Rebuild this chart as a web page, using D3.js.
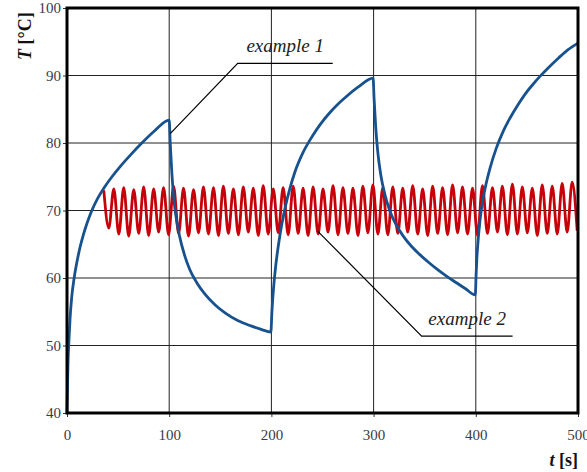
<!DOCTYPE html>
<html>
<head>
<meta charset="utf-8">
<script src="https://cdn.jsdelivr.net/npm/d3@7"></script>
<style>
	body { margin: 0; background: white; }
	text { font-family: "Liberation Serif", "DejaVu Serif", serif; }
</style>
</head>
<body>
<script>

// example 1 : heating / cooling cycles [t (s), T (°C)]
var example1 = [
	[0,40],[0.5,44],[1,47.5],[2,51],[3,54],[4.5,57],[7,60],[10,62.6],[13,64.7],[16,66.4],
	[20,68.3],[24,69.9],[30,71.8],[36,73.3],[44,75.0],[52,76.5],[62,78.2],[72,79.8],[85,81.7],[100,83.4],
	[101,80],[102.5,75.8],[104,72.6],[106,69.8],[110,66.3],[115,63.4],[120,61.3],[127,59.3],[135,57.6],
	[145,56],[155,54.8],[167,53.7],[180,52.9],[190,52.4],[199.5,52],
	[200.5,55],[202,58.3],[204,61.5],[207,65],[210,67.8],[214,70.8],[218,73.2],[223,75.7],[231,78.6],
	[240,81],[248,82.8],[256,84.3],[264,85.6],[272,86.7],[285,88.3],[299.5,89.6],
	[300.5,86.5],[302,82.5],[304,78.8],[307,75.3],[311,72.4],[316,69.9],[322,67.9],[329,66.2],[337,64.7],
	[345,63.5],[354,62.3],[363,61.2],[372,60.2],[381,59.3],[390,58.4],[399.5,57.5],
	[400.3,60.5],[401,62.8],[402.5,66],[404,68.4],[406.5,71.2],[409,73.2],[414,76.3],[420,79.2],[427,81.8],
	[433.5,83.7],[441,85.6],[449,87.4],[456,88.7],[463,89.9],[472,91.3],[481,92.6],[490,93.8],[500,94.8]
]

// example 2 : controlled temperature, read as peaks and troughs
var peakTimes = [36.0,45.8,55.5,65.3,75.0,84.8,94.5,104.3,114.0,123.8,133.5,143.3,153.0,162.8,172.5,182.3,
	192.0,201.8,211.5,221.3,231.0,240.8,250.5,260.3,270.0,279.8,289.5,299.3,309.0,318.8,328.5,338.3,
	348.0,357.8,367.5,377.3,387.0,396.8,406.5,416.3,426.0,435.8,445.5,455.3,465.0,474.8,484.5,494.3]
var peakTemps = [73.0,73.2,73.4,73.1,73.5,73.2,73.4,73.6,73.3,73.1,73.5,73.4,73.6,73.2,73.5,73.3,
	73.7,73.2,73.4,73.6,73.3,73.5,73.2,73.7,73.4,73.3,73.6,73.8,73.4,73.5,73.3,73.7,
	73.2,73.6,73.4,73.8,73.5,73.3,73.7,73.4,73.6,73.9,73.5,73.3,73.8,73.6,74.0,74.2]
var troughTimes = [40.9,50.7,60.4,70.2,79.9,89.7,99.4,109.2,118.9,128.7,138.4,148.2,157.9,167.7,177.4,187.2,
	196.9,206.7,216.4,226.2,235.9,245.7,255.4,265.2,274.9,284.7,294.4,304.2,313.9,323.7,333.4,343.2,
	352.9,362.7,372.4,382.2,391.9,401.7,411.4,421.2,430.9,440.7,450.4,460.2,469.9,479.7,489.4,499.2]
var troughTemps = [67.4,66.5,66.2,66.6,66.3,66.8,66.4,66.6,66.2,66.7,66.5,66.3,66.6,66.4,66.8,66.3,
	66.5,66.7,66.4,66.6,66.3,66.5,66.8,66.4,66.6,66.3,66.7,66.5,66.4,66.6,66.8,66.5,
	66.3,66.6,66.4,66.7,66.5,66.3,66.6,66.8,66.4,66.5,66.7,66.3,66.6,66.5,66.8,67.0]

var xTicks = [0, 100, 200, 300, 400, 500]
var yTicks = [40, 50, 60, 70, 80, 90, 100]

// annotation anchors in data units: [leader tip, knee, underline end]
var note1 = {label: "example 1", tip: [101, 81.4], knee: [167, 91.8], end: [260, 91.8]}
var note2 = {label: "example 2", tip: [245.5, 66.9], knee: [347, 51.4], end: [436, 51.4]}

var example2 = []
peakTimes.forEach(function(t, i){
	example2.push([t, peakTemps[i]])
	example2.push([troughTimes[i], troughTemps[i]])
})

var W = 587, H = 472
var margin = {left: 67, top: 8, right: 9, bottom: 59}
var w = W - margin.left - margin.right
var h = H - margin.top - margin.bottom

var xScale = d3.scaleLinear().domain([0, 500]).range([0, w])
var yScale = d3.scaleLinear().domain([40, 100]).range([h, 0])

var svg = d3.select("body")
	.append("svg")
	.attr("width", W)
	.attr("height", H)

var g = svg.append("g")
	.attr("transform", "translate(" + margin.left + "," + margin.top + ")")

// grid
g.append("g")
	.selectAll("line.v")
	.data(xTicks)
	.enter()
	.append("line")
	.attr("x1", (d) => xScale(d))
	.attr("x2", (d) => xScale(d))
	.attr("y1", 0)
	.attr("y2", h)
	.attr("stroke", "#222")
	.attr("stroke-width", 1)

g.append("g")
	.selectAll("line.h")
	.data(yTicks)
	.enter()
	.append("line")
	.attr("x1", 0)
	.attr("x2", w)
	.attr("y1", (d) => yScale(d))
	.attr("y2", (d) => yScale(d))
	.attr("stroke", "#222")
	.attr("stroke-width", 1)

// axes
var xAxis = d3.axisBottom(xScale).tickValues(xTicks).tickSize(4).tickPadding(12)
var yAxis = d3.axisLeft(yScale).tickValues(yTicks).tickSize(4).tickPadding(2)

var gx = g.append("g")
	.attr("transform", "translate(0," + h + ")")
	.call(xAxis)
var gy = g.append("g").call(yAxis)

;[gx, gy].forEach(function(a){
	a.select(".domain").remove()
	a.selectAll(".tick line").attr("stroke", "#333")
	a.selectAll(".tick text")
		.attr("fill", "#3a3a48")
		.style("font-family", "Liberation Serif")
		.style("font-size", "15px")
})

// series
var line = d3.line()
	.x((d) => xScale(d[0]))
	.y((d) => yScale(d[1]))
	.curve(d3.curveMonotoneX)

g.append("path")
	.datum(example2)
	.attr("d", line)
	.attr("fill", "none")
	.attr("stroke", "#c8000a")
	.attr("stroke-width", 2.8)
	.attr("stroke-linejoin", "round")

g.append("path")
	.datum(example1)
	.attr("d", line)
	.attr("fill", "none")
	.attr("stroke", "#17528e")
	.attr("stroke-width", 2.8)
	.attr("stroke-linejoin", "round")

// frame
g.append("rect")
	.attr("x", 0)
	.attr("y", 0)
	.attr("width", w)
	.attr("height", h)
	.attr("fill", "none")
	.attr("stroke", "black")
	.attr("stroke-width", 3)

// annotations
;[note1, note2].forEach(function(n){
	var pts = [n.tip, n.knee, n.end].map((p) => [xScale(p[0]), yScale(p[1])])
	g.append("polyline")
		.attr("points", pts.map((p) => p.join(",")).join(" "))
		.attr("fill", "none")
		.attr("stroke", "black")
		.attr("stroke-width", 1.2)
	g.append("text")
		.attr("x", (pts[1][0] + pts[2][0]) / 2)
		.attr("y", pts[1][1] - 11)
		.attr("text-anchor", "middle")
		.style("font-style", "italic")
		.style("font-size", "19px")
		.attr("fill", "#222")
		.text(n.label)
})

// axis titles
var yTitle = svg.append("text")
	.attr("transform", "translate(31,60) rotate(-90)")
	.style("font-size", "18px")
	.style("font-weight", "bold")
	.attr("fill", "#111")
yTitle.append("tspan").style("font-style", "italic").text("T")
yTitle.append("tspan").text(" [°C]")

var xTitle = svg.append("text")
	.attr("x", 578)
	.attr("y", 466)
	.attr("text-anchor", "end")
	.style("font-size", "18px")
	.style("font-weight", "bold")
	.attr("fill", "#111")
xTitle.append("tspan").style("font-style", "italic").text("t")
xTitle.append("tspan").text(" [s]")

</script>
</body>
</html>
